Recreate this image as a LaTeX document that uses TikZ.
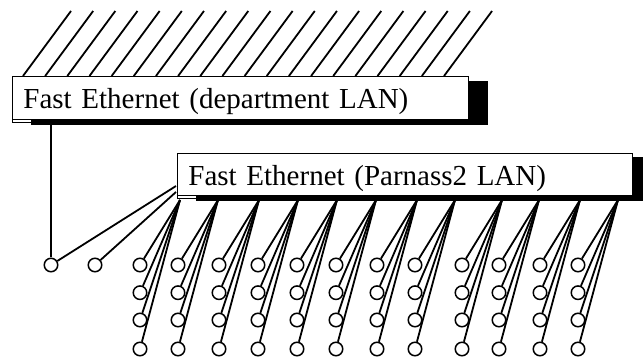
\documentclass[tikz,border=0pt]{standalone}
\usepackage{fontspec}
\setmainfont{Liberation Serif}
\usetikzlibrary{calc}
\begin{document}
\begin{tikzpicture}[x=1pt,y=-1pt,
  lan/.style={draw=black, line width=0.9pt, fill=white, rectangle, inner ysep=0pt, inner xsep=11pt,
    font=\fontsize{29}{32}\selectfont, align=left, anchor=north west},
  shadowbox/.style={fill=black},
  hatch/.style={line width=1.8pt},
  wire/.style={line width=1.8pt},
  host/.style={circle, draw=black, line width=1.5pt, fill=white, minimum size=13.5pt, inner sep=0pt}]
\useasboundingbox (0,0) rectangle (643,358);
\begin{scope}
\clip (0,0) rectangle (643,358);
% hatching above the department LAN
\foreach \i in {0,...,19} {
  \draw[hatch] (23+22.16*\i,76) -- ++(48,-65);
}
% host grid and its connectors
\foreach \c [count=\k] in {140,178,219,258,297,336,377,415,462,499,540,578} {
  \coordinate (tap\k) at (\c+40,200);
  \foreach \r [count=\j] in {265,292.7,320,349} {
    \node[host] (h\k-\j) at (\c,\r) {};
    \draw[wire] (h\k-\j) -- (tap\k);
  }
}
% two hosts on the left
\node[host] (gw) at (51,265) {};
\node[host] (srv) at (95,265) {};
\coordinate (up) at (51,124);
\coordinate (p2a) at (176,186);
\coordinate (p2b) at (176,192);
\draw[wire] (gw) -- (up);
\draw[wire] (gw) -- (p2a);
\draw[wire] (srv) -- (p2b);
% department LAN box
\node[lan, minimum width=456pt, minimum height=43pt, text width=434pt, text height=32pt, text depth=11pt] (lan1) at (12,76) {Fast Ethernet (department LAN)};
\fill[shadowbox] ($(lan1.north east)+(0,5)$) rectangle ($(lan1.south east)+(19,5)$);
\fill[shadowbox] ($(lan1.south west)+(18.5,0)$) rectangle ($(lan1.south east)+(19,5)$);
\draw[line width=0.9pt] (lan1.south west) -- ++(0,3) -- ++(18.5,0);
% Parnass2 LAN box
\node[lan, minimum width=455pt, minimum height=42pt, text width=433pt, text height=32pt, text depth=10pt] (lan2) at (177,153) {Fast Ethernet (Parnass2 LAN)};
\fill[shadowbox] ($(lan2.north east)+(0,4)$) rectangle ($(lan2.south east)+(19,5.5)$);
\fill[shadowbox] ($(lan2.south west)+(19,0)$) rectangle ($(lan2.south east)+(19,5.5)$);
\draw[line width=0.9pt] (lan2.south west) -- ++(0,3) -- ++(19,0);
\end{scope}
\end{tikzpicture}
\end{document}
